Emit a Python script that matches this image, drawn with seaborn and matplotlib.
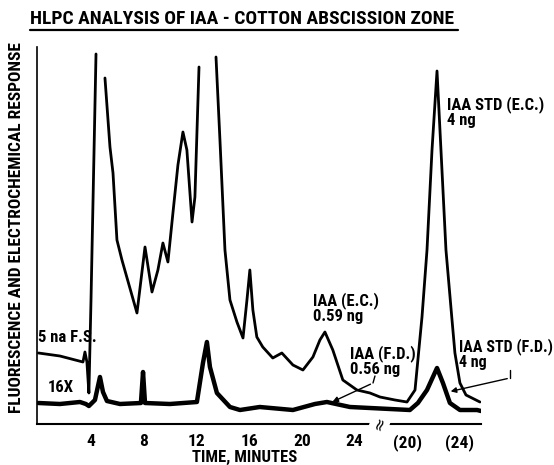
import matplotlib
matplotlib.use("Agg")
import matplotlib.pyplot as plt
import pandas as pd
import seaborn as sns
from matplotlib.lines import Line2D
from matplotlib import font_manager as fm

# ---- Data (time on the displayed axis, minutes; response in arbitrary units) ----
# Electrochemical (E.C.) trace, split where the pen went off scale
ec_time_1 = [0.0, 1.63, 3.38, 3.53, 3.68, 3.83, 3.99, 4.37]
ec_resp_1 = [71, 68, 62, 72, 62, 31, 124, 370]
ec_time_2 = [5.05, 5.43, 5.66, 5.96, 6.34, 7.48, 8.09, 8.62, 9.07, 9.45, 9.83,
             10.21, 10.59, 10.97, 11.27, 11.66, 11.88, 12.19]
ec_resp_2 = [346, 277, 251, 184, 164, 111, 177, 132, 154, 181, 162,
             211, 259, 292, 274, 202, 227, 357]
ec_time_3 = [13.48, 13.78, 14.16, 14.54, 15.07, 15.53, 15.83, 16.05, 16.28, 16.58,
             17.03, 17.79, 18.48, 19.32, 20.08, 20.84, 21.37, 21.75, 22.35, 23.11,
             24.18, 25.17, 25.93, 27.07, 27.98, 28.59, 29.12, 29.5, 29.88, 30.26,
             30.56, 30.94, 31.4, 31.62, 32.0, 32.46, 33.52]
ec_resp_3 = [367, 284, 174, 124, 102, 86, 124, 154, 114, 87,
             77, 66, 71, 59, 54, 67, 84, 92, 74, 44,
             34, 31, 27, 24, 22, 34, 107, 174, 274, 353,
             274, 174, 104, 71, 41, 29, 22]

# Fluorescence (F.D.) trace, 16X
fd_time = [0.0, 1.63, 3.15, 3.6, 3.83, 4.29, 4.67, 4.9, 5.2, 6.19, 7.78, 7.94, 8.09,
           9.98, 12.03, 12.49, 12.79, 13.02, 13.55, 14.54, 15.3, 16.8, 19.32, 20.99,
           21.9, 23.65, 25.17, 28.2, 28.81, 29.5, 30.26, 30.71, 31.24, 32.0, 33.3, 33.6]
fd_resp = [21, 20, 22, 20, 18, 24, 47, 32, 23, 20, 21, 52, 21,
           20, 22, 61, 82, 57, 31, 17, 14, 17, 14, 20,
           22, 17, 16, 14, 21, 34, 56, 41, 21, 14, 14, 13]

tick_pos = [4, 8, 12, 16, 20, 24, 28, 32]
tick_labels = ["4", "8", "12", "16", "20", "24", "(20)", "(24)"]

ec_df = pd.concat([
    pd.DataFrame({"t": ec_time_1, "r": ec_resp_1, "seg": 1}),
    pd.DataFrame({"t": ec_time_2, "r": ec_resp_2, "seg": 2}),
    pd.DataFrame({"t": ec_time_3, "r": ec_resp_3, "seg": 3}),
], ignore_index=True)
fd_df = pd.DataFrame({"t": fd_time, "r": fd_resp, "seg": 1})

sns.set_style("white")
plt.rcParams["font.family"] = ["DejaVu Sans"]
plt.rcParams["text.color"] = "black"
plt.rcParams["axes.labelcolor"] = "black"
plt.rcParams["xtick.color"] = "black"

# pick a condensed bold face if one is installed
files = [f.fname for f in fm.fontManager.ttflist]
cond_path = None
for key in ["RobotoCondensed-Bold", "DejaVuSansCondensed-Bold", "LiberationSansNarrow-Bold",
            "OpenSans_Condensed-Bold", "OpenSansCondensed-Bold"]:
    hits = [p for p in files if key.lower() in p.lower().replace(" ", "")]
    if hits:
        cond_path = hits[0]
        break


def fp(size):
    if cond_path:
        return fm.FontProperties(fname=cond_path, size=size)
    return fm.FontProperties(family="DejaVu Sans", weight="bold", size=size * 0.82)


W, H = 554, 465
fig = plt.figure(figsize=(W / 100, H / 100), dpi=100)
ax = fig.add_axes([37 / W, 41 / H, (481 - 37) / W, (424 - 47) / H])

sns.lineplot(data=ec_df, x="t", y="r", units="seg", estimator=None, sort=False,
             color="black", lw=2.0, ax=ax, legend=False)
sns.lineplot(data=fd_df, x="t", y="r", units="seg", estimator=None, sort=False,
             color="black", lw=3.2, ax=ax, legend=False)

ax.set_xlim(-0.11, 33.6)
ax.set_ylim(0, 377)
ax.set_xticks(tick_pos)
ax.set_xticklabels(tick_labels)
for lab in ax.get_xticklabels():
    lab.set_fontproperties(fp(12.5))
ax.set_yticks([])
ax.tick_params(axis="x", direction="in", length=5, width=1.2, pad=7, colors="black")
for s in ["top", "right"]:
    ax.spines[s].set_visible(False)
ax.spines["bottom"].set_linewidth(1.5)
ax.spines["left"].set_linewidth(1.2)
ax.spines["bottom"].set_color("black")
ax.spines["left"].set_color("black")
ax.set_xlabel("")
ax.set_ylabel("")
fig.text(245 / W, 1 - 457 / H, "TIME, MINUTES", ha="center", va="center",
         fontproperties=fp(12))

# axis break mark
ax.text(25.9, 0, "\u2248", rotation=70, ha="center", va="center", fontsize=12,
        family="DejaVu Sans", clip_on=False,
        bbox=dict(facecolor="white", edgecolor="none", pad=0.5))

# annotations
kw = dict(ha="left", va="center", linespacing=1.05, fontproperties=fp(12))
ax.text(-0.05, 87, "5 na F.S.", **kw)
ax.text(0.72, 37, "16X", **kw)
ax.text(20.85, 116, "IAA (E.C.)\n0.59 ng", **kw)
ax.text(23.65, 63, "IAA (F.D.)\n0.56 ng", **kw)
ax.text(31.02, 312, "IAA STD (E.C.)\n4 ng", clip_on=False, **kw)
ax.text(31.95, 70, "IAA STD (F.D.)\n4 ng", clip_on=False, ha="left", va="center",
        linespacing=1.05, fontproperties=fp(11.5))

# arrows
ax.plot([25.55, 25.4], [48, 41], color="black", lw=1.0, clip_on=False)
ax.annotate("", xy=(22.13, 21), xytext=(25.4, 41), annotation_clip=False,
            arrowprops=dict(arrowstyle="-|>", color="black", lw=1.0, mutation_scale=8))
ax.plot([35.8, 35.8], [54, 46], color="black", lw=1.0, clip_on=False)
ax.annotate("", xy=(31.09, 32), xytext=(35.8, 46), annotation_clip=False,
            arrowprops=dict(arrowstyle="-|>", color="black", lw=1.0, mutation_scale=8))

# y label
fig.text(17 / W, 1 - 228 / H, "FLUORESCENCE AND ELECTROCHEMICAL RESPONSE",
         rotation=90, ha="center", va="center", fontproperties=fp(12.5))

# title with underline
fig.text(30 / W, 1 - 19 / H, "HLPC ANALYSIS OF IAA - COTTON ABSCISSION ZONE",
         ha="left", va="center", fontproperties=fp(14))
fig.add_artist(Line2D([30 / W, 458 / W], [1 - 30 / H, 1 - 30 / H],
                      color="black", lw=1.6))

fig.savefig("out.png", dpi=100, facecolor="white")
